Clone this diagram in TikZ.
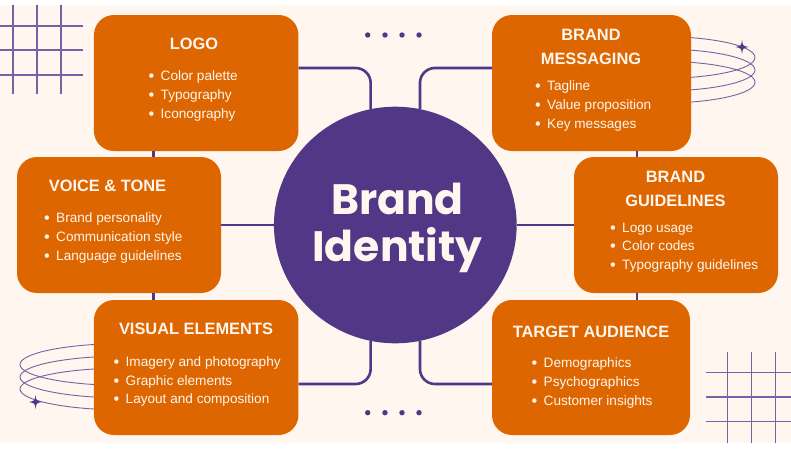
\documentclass[tikz,border=0pt]{standalone}
\usepackage{fontspec}
\usetikzlibrary{shapes.geometric}
\setmainfont{Liberation Sans}
\newfontfamily\titlefont{Poppins}[BoldFont={Poppins Bold}]
\definecolor{cream}{HTML}{FEF6EF}
\definecolor{brandorange}{HTML}{DE6600}
\definecolor{brandpurple}{HTML}{523786}
\definecolor{softpurple}{HTML}{7563A3}
\newcommand{\bul}{\llap{\raisebox{-0.9pt}{\scalebox{1.2}{\textbullet}}\hspace{6.4pt}}}
\tikzset{
  panel/.style={fill=brandorange,rounded corners=20pt,inner sep=0pt,minimum height=136pt},
  head/.style={text=cream,font=\fontsize{16.4}{19}\selectfont\bfseries,inner sep=0pt,anchor=base,yshift=-5.8pt},
  item/.style={text=cream,font=\fontsize{13.6}{16}\selectfont,inner sep=0pt,anchor=base west,yshift=-5.2pt},
  conn/.style={draw=brandpurple,line width=2.6pt},
  thinline/.style={draw=softpurple,line width=1.1pt},
  ring/.style={draw=softpurple,line width=0.9pt},
  dotmark/.style={circle,fill=brandpurple,minimum size=5.4pt,inner sep=0pt},
  title/.style={text=cream,font=\fontsize{42.5}{50}\selectfont\titlefont\bfseries,inner sep=0pt,anchor=base}
}
\newcommand{\sparkle}[2]{\fill[brandpurple] (#1,#2-7) .. controls (#1+0.8,#2-1.2) .. (#1+6.5,#2) .. controls (#1+0.8,#2+1.2) .. (#1,#2+7) .. controls (#1-0.8,#2+1.2) .. (#1-6.5,#2) .. controls (#1-0.8,#2-1.2) .. cycle;}
\begin{document}
\begin{tikzpicture}[x=1pt,y=-1pt]
\useasboundingbox (0,0) rectangle (791,450);
\fill[white] (0,0) rectangle (791,450);
\fill[cream] (0,5) rectangle (791,443);
% grids
\foreach \x in {13,37,61} \draw[thinline] (\x,5) -- (\x,94);
\foreach \y in {26,50,75} \draw[thinline] (0,\y) -- (83,\y);
\foreach \x in {727.7,751.5,775.5} \draw[thinline] (\x,352) -- (\x,443);
\foreach \y in {372.7,397,421.5} \draw[thinline] (706,\y) -- (791,\y);
% rings
\foreach \c in {57.5,70,82.2} \draw[ring] (660,\c) ellipse [x radius=95,y radius=21];
\foreach \c in {364.5,377,389} \draw[ring] (126,\c) ellipse [x radius=106,y radius=21];
\sparkle{742}{47}
\sparkle{35.5}{402}
% panels
\node[panel,minimum width=204.5pt] (logo) at (196.2,83) {};
\node[panel,minimum width=204pt] (voice) at (119,225) {};
\node[panel,minimum width=204.5pt,minimum height=135pt] (visual) at (196.2,367.5) {};
\node[panel,minimum width=199pt] (messaging) at (591.5,83) {};
\node[panel,minimum width=204pt] (guidelines) at (676,225) {};
\node[panel,minimum width=198pt,minimum height=135pt] (target) at (591,367.5) {};
\node[ellipse,fill=brandpurple,minimum width=242.7pt,minimum height=236.6pt,inner sep=0pt] (hub) at (395.3,225) {};
% connectors
\draw[conn,rounded corners=15pt] (logo.east |- 0,68) -| (hub.102);
\draw[conn,rounded corners=15pt] (messaging.west |- 0,68) -| (hub.78);
\draw[conn,rounded corners=15pt] (visual.east |- 0,384) -| (hub.258);
\draw[conn,rounded corners=15pt] (target.west |- 0,384) -| (hub.282);
\draw[conn] (voice.east) -- (hub.west);
\draw[conn] (guidelines.west) -- (hub.east);
\draw[conn] (logo.south -| 153.5,0) -- (voice.north -| 153.5,0);
\draw[conn] (voice.south -| 153.5,0) -- (visual.north -| 153.5,0);
\draw[conn] (messaging.south -| 637,0) -- (guidelines.north -| 637,0);
\draw[conn] (guidelines.south -| 637,0) -- (target.north -| 637,0);
% title
\node[title] (t1) at (397.5,214) {Brand};
\node[title] (t2) at (397.5,261) {Identity};
% dots
\foreach \i/\x in {a/367.7,b/385,c/402,d/419} {
  \node[dotmark] (top\i) at (\x,35) {};
  \node[dotmark] (bot\i) at (\x,412.7) {};
}
% text
\node[head] (logoh) at (194,44) {LOGO};
\node[item] (l1) at (160.5,75) {\bul Color palette};
\node[item] (l2) at (160.5,94) {\bul Typography};
\node[item] (l3) at (160.5,113) {\bul Iconography};
\node[head] (voiceh) at (107.5,186) {VOICE \& TONE};
\node[item] (v1) at (56,217) {\bul Brand personality};
\node[item] (v2) at (56,236) {\bul Communication style};
\node[item] (v3) at (56,255) {\bul Language guidelines};
\node[head] (vish) at (196,329) {VISUAL ELEMENTS};
\node[item] (e1) at (125.5,361) {\bul Imagery and photography};
\node[item] (e2) at (125.5,380) {\bul Graphic elements};
\node[item] (e3) at (125.5,398.5) {\bul Layout and composition};
\node[head] (mh1) at (591,35) {BRAND};
\node[head] (mh2) at (591,59) {MESSAGING};
\node[item] (m1) at (547,85.5) {\bul Tagline};
\node[item] (m2) at (547,104.5) {\bul Value proposition};
\node[item] (m3) at (547,123) {\bul Key messages};
\node[head] (gh1) at (675.5,177) {BRAND};
\node[head] (gh2) at (675.5,201) {GUIDELINES};
\node[item] (g1) at (622,227) {\bul Logo usage};
\node[item] (g2) at (622,245.5) {\bul Color codes};
\node[item] (g3) at (622,264.5) {\bul Typography guidelines};
\node[head] (th) at (591,332) {TARGET AUDIENCE};
\node[item] (a1) at (543.5,362.5) {\bul Demographics};
\node[item] (a2) at (543.5,381) {\bul Psychographics};
\node[item] (a3) at (543.5,400) {\bul Customer insights};
\end{tikzpicture}
\end{document}
